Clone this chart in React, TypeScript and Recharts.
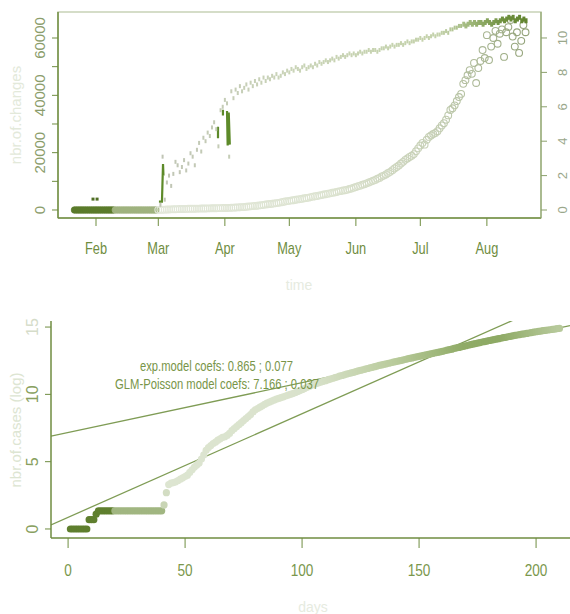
import React from 'react';
import { ComposedChart, Scatter, Line, XAxis, YAxis, ReferenceArea } from 'recharts';

// ---------- TOP PANEL DATA (day 0 = Jan 22) ----------
const monthTicks = [10, 39, 70, 100, 131, 161, 192];
const monthLabels = ['Feb', 'Mar', 'Apr', 'May', 'Jun', 'Jul', 'Aug'];
const leftTicks = [0, 10000, 20000, 30000, 40000, 50000, 60000];
const rightTicks = [0, 2, 4, 6, 8, 10];

// circles (left axis), one per day from day 0
const circleValues = [
  0, 0, 0, 0, 0, 0, 0, 0, 0, 0, 0, 0, 0, 0, 0, 0, 0, 0, 0, 0,
  0, 0, 0, 0, 0, 0, 0, 0, 0, 0, 0, 0, 0, 0, 0, 0, 0, 0, 0,
  60, 90, 110, 130, 160, 190, 220, 250, 280, 300, 330, 350, 370, 390, 410, 420, 440, 460, 470, 490, 500,
  520, 540, 560, 570, 590, 610, 620, 640, 660, 680, 700, 720, 750, 780, 820, 860, 900, 950, 1000, 1060,
  1120, 1200, 1280, 1350, 1430, 1500, 1600, 1700, 1800, 1900, 2000, 2100, 2200, 2300, 2400, 2500, 2650, 2800, 2950, 3100,
  3200, 3350, 3400, 3550, 3700, 3800, 3900, 4100, 4200, 4300, 4500, 4650, 4800, 4900, 5100, 5200, 5400, 5500, 5700, 5800,
  6000, 6100, 6300, 6500, 6600, 6800, 6900, 7100, 7300, 7500, 7800, 8000, 8300, 8500, 8800, 9000, 9300, 9600, 9900, 10200,
  10500, 10900, 11200, 11700, 12000, 12400, 12900, 13300, 13900, 14500, 15000, 15500, 16200, 16800, 17500, 18000, 18500, 18900, 19500, 20500,
  21500, 22500, 23400, 22800, 24500, 25500, 26000, 26500, 26900, 27500, 28500, 29500, 30300, 31500, 33000, 34900, 35500, 36500, 38000, 39400,
  40500, 44000, 45300, 47000, 48800, 47500, 51300, 44300, 49500, 52000, 55800, 53000, 61000, 52300, 57000, 60000, 62500, 58000, 61500, 63000,
  53400, 62000, 63800, 66300, 60500, 57000, 62000, 54800, 59000, 64500, 62000,
];

// small dash points (right axis), one per day from upperStartDay
const upperStartDay = 40;
const upperValues = [
  0.3, 3.1, 0.6, 1.6, 2.0, 1.4, 2.1, 2.8, 2.6, 2.2,
  2.5, 2.9, 2.3, 2.7, 3.3, 3.1, 2.6, 3.5, 3.9, 3.4,
  4.2, 4.0, 4.5, 4.3, 4.8, 5.1, 4.7, 3.7, 5.8, 6.0,
  6.4, 6.2, 3.1, 6.9, 6.5, 7.0, 6.8, 7.2, 6.9, 7.1,
  7.3, 7.0, 7.4, 7.2, 7.5, 7.3, 7.6, 7.4, 7.7, 7.5,
  7.7, 7.6, 7.8, 7.7, 7.9, 7.7, 7.8, 8.0, 7.9, 8.1,
  8.0, 8.2, 8.1, 8.3, 8.2, 8.1, 8.3, 8.4, 8.2, 8.3,
  8.4, 8.3, 8.5, 8.4, 8.6, 8.5, 8.6, 8.7, 8.6, 8.7,
  8.8, 8.7, 8.9, 8.8, 8.9, 9.0, 8.9, 9.0, 9.1, 9.0,
  9.1, 9.0, 9.1, 9.2, 9.1, 9.2, 9.2, 9.3, 9.2, 9.3,
  9.3, 9.2, 9.3, 9.4, 9.4, 9.5, 9.4, 9.5, 9.6, 9.5,
  9.6, 9.6, 9.7, 9.6, 9.7, 9.8, 9.7, 9.8, 9.8, 9.9,
  9.9, 10.0, 9.9, 10.0, 10.1, 10.0, 10.1, 10.2, 10.1, 10.2,
  10.2, 10.3, 10.3, 10.4, 10.3, 10.5, 10.5, 10.6, 10.6, 10.7,
  10.7, 10.8, 10.7, 10.8, 10.9, 10.8, 10.9, 10.8, 10.9, 10.9,
  10.8, 10.9, 11.0, 10.9, 10.8, 10.9, 11.0, 10.9, 11.0, 11.1,
  11.0, 11.1, 11.2, 11.1, 11.2, 11.0, 11.1, 11.2, 11.0, 11.1, 11.0,
];

// dark vertical segments (left axis); null breaks the line
const segDays = [39.3, 40.7, 40.9, 41.2, 41.4, 41.5, 66.8, 66.8, 66.9, 69.1, 69.1, 69.2, 71.0, 71.3, 71.8, 72.3];
const segValues = [2900, 2900, 8000, 16000, 12000, null, 29000, 25000, null, 35000, 33000, null, 34500, 22500, 34000, 22800];

const febDotDays = [8.6, 10.5];
const febDotValues = [3800, 3800];

// ---------- BOTTOM PANEL DATA ----------
const dayTicks = [0, 50, 100, 150, 200];
const logTicks = [0, 5, 10, 15];
const caseStartDay = 1;
const logCases = [
  0, 0, 0, 0, 0, 0, 0, 0,
  0.69, 0.69, 0.69, 1.1,
  1.35, 1.35, 1.35, 1.35, 1.35, 1.35, 1.35, 1.35, 1.35, 1.35, 1.35, 1.35, 1.35, 1.35,
  1.35, 1.35, 1.35, 1.35, 1.35, 1.35, 1.35, 1.35, 1.35, 1.35, 1.35, 1.35, 1.35, 1.35,
  1.79, 2.7,
  3.3, 3.4, 3.45, 3.5, 3.6, 3.7, 3.8, 3.9, 4.0, 4.2, 4.4, 4.6, 4.75, 4.9, 5.2, 5.5, 5.85, 6.05,
  6.2, 6.35, 6.45, 6.6, 6.7, 6.8, 6.85, 6.95, 7.1, 7.3, 7.45, 7.6, 7.75, 7.9, 8.05, 8.2, 8.35, 8.5,
  8.7, 8.85, 8.95, 9.05, 9.15, 9.25, 9.35, 9.42, 9.5, 9.57, 9.64, 9.7, 9.76, 9.82, 9.88, 9.94, 10.0, 10.06,
  10.12, 10.2, 10.28, 10.35,
  10.43, 10.51, 10.59, 10.67, 10.75, 10.8, 10.86, 10.91, 10.97, 11.02,
  11.07, 11.13, 11.18, 11.24, 11.29, 11.35, 11.4, 11.45, 11.5, 11.55,
  11.6, 11.64, 11.69, 11.74, 11.78, 11.83, 11.88, 11.92, 11.97, 12.01,
  12.06, 12.1, 12.15, 12.19, 12.23, 12.27, 12.31, 12.35, 12.39, 12.43,
  12.47, 12.51, 12.55, 12.59, 12.63, 12.67, 12.71, 12.75, 12.79, 12.82,
  12.86, 12.9, 12.94, 12.97, 13.01, 13.05, 13.09, 13.12, 13.16, 13.2,
  13.24, 13.28, 13.32, 13.36, 13.41, 13.45, 13.49, 13.53, 13.57, 13.61,
  13.65, 13.69, 13.73, 13.77, 13.81, 13.85, 13.89, 13.92, 13.96, 14.0,
  14.03, 14.07, 14.1, 14.14, 14.17, 14.21, 14.24, 14.28, 14.31, 14.35,
  14.38, 14.41, 14.44, 14.47, 14.5, 14.53, 14.56, 14.59, 14.62, 14.65,
  14.68, 14.7, 14.73, 14.75, 14.78, 14.8, 14.83, 14.85, 14.88, 14.9,
];
const expCoefs = [0.865, 0.077];
const glmCoefs = [7.166, 0.037];
const modelDays = [-7.3, 214.5];

// ---------- built tables ----------
const circleData = circleValues.map((v, i) => ({ day: i, v }));
const upperData = upperValues.map((v, i) => ({ day: upperStartDay + i, u: v }));
const segData = segDays.map((d, i) => ({ day: d, s: segValues[i] }));
const febData = febDotDays.map((d, i) => ({ day: d, f: febDotValues[i] }));
const caseData = logCases.map((v, i) => ({ day: caseStartDay + i, c: v }));
const modelData = modelDays.map((d) => ({
  day: d,
  exp: expCoefs[0] + expCoefs[1] * d,
  glm: glmCoefs[0] + glmCoefs[1] * d,
}));

// ---------- styling helpers ----------
const NARROW = '"Liberation Sans Narrow", "Liberation Sans", Arial, sans-serif';
const REG = '"Liberation Sans", Arial, sans-serif';

function hexToRgb(h: string) {
  const n = parseInt(h.slice(1), 16);
  return [(n >> 16) & 255, (n >> 8) & 255, n & 255];
}
function ramp(stops: [number, string][], t: number) {
  if (t <= stops[0][0]) return stops[0][1];
  for (let i = 1; i < stops.length; i++) {
    if (t <= stops[i][0]) {
      const [t0, c0] = stops[i - 1];
      const [t1, c1] = stops[i];
      const k = (t - t0) / (t1 - t0);
      const a = hexToRgb(c0), b = hexToRgb(c1);
      const m = a.map((x, j) => Math.round(x + (b[j] - x) * k));
      return `rgb(${m[0]},${m[1]},${m[2]})`;
    }
  }
  return stops[stops.length - 1][1];
}

const circleStroke: [number, string][] = [[39, '#e2e7d9'], [120, '#dce3d0'], [170, '#c3cdb2'], [210, '#93a379']];
const upperColor: [number, string][] = [[40, '#c0c5b5'], [100, '#cad4b8'], [170, '#c4d2ab'], [185, '#9cb577'], [200, '#6d8f3c'], [210, '#62852f']];
const caseColor: [number, string][] = [[1, '#5f7f2e'], [19, '#5f7f2e'], [20, '#a1b681'], [40, '#a1b681'], [41, '#c9d5b5'], [43, '#dde5d1'], [105, '#d9e2cb'], [140, '#b9cb9c'], [170, '#8fab66'], [185, '#8eaa65'], [210, '#b7c99b']];

const CircleShape = (p: any) => {
  const d = p.payload.day;
  if (d <= 18) return <circle cx={p.cx} cy={p.cy} r={3.3} fill="#5b7b2b" stroke="#5b7b2b" strokeWidth={0.8} />;
  if (d <= 38) return <circle cx={p.cx} cy={p.cy} r={3.3} fill="#9fb37f" stroke="#9fb37f" strokeWidth={0.8} />;
  return <circle cx={p.cx} cy={p.cy} r={3.4} fill="none" stroke={ramp(circleStroke, d)} strokeWidth={1.1} />;
};
const UpperShape = (p: any) => {
  const d = p.payload.day;
  const late = d > 180;
  return <rect x={p.cx - 1} y={p.cy - (late ? 2.5 : 2)} width={late ? 3 : 2} height={late ? 5 : 4} fill={ramp(upperColor, d)} />;
};
const FebShape = (p: any) => <rect x={p.cx - 1.5} y={p.cy - 1.5} width={3} height={3} fill="#4f6e24" />;
const CaseShape = (p: any) => <circle cx={p.cx} cy={p.cy} r={3.6} fill={ramp(caseColor, p.payload.day)} />;

const AX = '#6f8d40';

const TopXTick = (p: any) => {
  const i = monthTicks.indexOf(p.payload.value);
  return (
    <g transform={`translate(${p.x},254) scale(0.8,1)`}>
      <text x={0} y={0} textAnchor="middle" fontFamily={NARROW} fontSize={16} fill="#6f8d3f">{monthLabels[i]}</text>
    </g>
  );
};
const TopLeftTick = (p: any) => {
  const v = p.payload.value;
  if (v % 20000 !== 0) return <g />;
  return (
    <text transform={`translate(39,${p.y}) rotate(-90)`} textAnchor="middle" dominantBaseline="central" fontFamily={REG} fontSize={15} fill="#8b9d6c">{v}</text>
  );
};
const TopRightTick = (p: any) => (
  <text transform={`translate(562,${p.y}) rotate(-90)`} textAnchor="middle" dominantBaseline="central" fontFamily={REG} fontSize={13} fill="#9aa78b">{p.payload.value}</text>
);
const BotXTick = (p: any) => (
  <g transform={`translate(${p.x},276) scale(0.8,1)`}>
    <text x={0} y={0} textAnchor="middle" fontFamily={NARROW} fontSize={17} fill="#7a974c">{p.payload.value}</text>
  </g>
);
const BotYTick = (p: any) => {
  const v = p.payload.value;
  return (
    <text transform={`translate(32,${p.y}) rotate(-90)`} textAnchor="middle" dominantBaseline="central" fontFamily={REG} fontSize={16} fill={v === 15 ? '#d5dcc9' : '#88a060'}>{v}</text>
  );
};

export default function App() {
  return (
    <div style={{ position: 'absolute', left: 0, top: 0, width: 570, height: 614, background: '#fff', overflow: 'hidden' }}>
      <div style={{ position: 'absolute', left: 0, top: 0 }}>
        <ComposedChart width={570} height={300} margin={{ top: 12, right: 0, bottom: 42, left: 0 }}>
          <XAxis type="number" dataKey="day" domain={[-7.7, 217.2]} allowDataOverflow ticks={monthTicks} interval={0}
            tick={TopXTick} tickSize={8} tickLine={{ stroke: AX }} axisLine={{ stroke: AX, strokeWidth: 1.5 }} height={40} />
          <YAxis yAxisId="left" type="number" domain={[-2791, 69070]} allowDataOverflow ticks={leftTicks} interval={0}
            tick={TopLeftTick} tickSize={6} width={58} tickLine={{ stroke: AX }} axisLine={{ stroke: AX, strokeWidth: 1.5 }} />
          <YAxis yAxisId="right" orientation="right" type="number" domain={[-0.465, 11.51]} allowDataOverflow ticks={rightTicks} interval={0}
            tick={TopRightTick} tickSize={6} width={29} tickLine={{ stroke: '#8ba06c' }} axisLine={{ stroke: '#8ea46c', strokeWidth: 1.2 }} />
          <ReferenceArea yAxisId="left" x1={-7.7} x2={217.2} y1={-2791} y2={69070} ifOverflow="visible"
            stroke="#c8d2b6" strokeWidth={1.5} fill="#ffffff" fillOpacity={0} />
          <Scatter data={circleData} dataKey="v" yAxisId="left" shape={CircleShape} isAnimationActive={false} />
          <Scatter data={upperData} dataKey="u" yAxisId="right" shape={UpperShape} isAnimationActive={false} />
          <Scatter data={febData} dataKey="f" yAxisId="left" shape={FebShape} isAnimationActive={false} />
          <Line data={segData} dataKey="s" yAxisId="left" type="linear" stroke="#5d8a29" strokeWidth={2.2} dot={false} isAnimationActive={false} />
        </ComposedChart>
      </div>
      <div style={{ position: 'absolute', left: 0, top: 300 }}>
        <ComposedChart width={570} height={314} margin={{ top: 21, right: 0, bottom: 36, left: 0 }}>
          <XAxis type="number" dataKey="day" domain={[-7.3, 214.5]} allowDataOverflow ticks={dayTicks} interval={0}
            tick={BotXTick} tickSize={10} height={40} tickLine={{ stroke: AX }} axisLine={{ stroke: AX, strokeWidth: 1.5 }} />
          <YAxis type="number" domain={[-0.67, 15.45]} allowDataOverflow ticks={logTicks} interval={0}
            tick={BotYTick} tickSize={6} width={51} tickLine={{ stroke: AX }} axisLine={{ stroke: AX, strokeWidth: 1.5 }} />
          <Scatter data={caseData} dataKey="c" shape={CaseShape} isAnimationActive={false} />
          <Line data={modelData} dataKey="exp" type="linear" stroke="#7f9c55" strokeWidth={1.3} dot={false} isAnimationActive={false} />
          <Line data={modelData} dataKey="glm" type="linear" stroke="#7f9c55" strokeWidth={1.3} dot={false} isAnimationActive={false} />
        </ComposedChart>
      </div>
      <svg width={570} height={614} style={{ position: 'absolute', left: 0, top: 0, pointerEvents: 'none' }}>
        <text x={299} y={290} textAnchor="middle" fontFamily={REG} fontSize={14} fill="#e6ebdf">time</text>
        <text transform="translate(15,115) rotate(-90)" textAnchor="middle" dominantBaseline="central" fontFamily={REG} fontSize={15} fill="#e3e9da">nbr.of.changes</text>
        <text x={313} y={612} textAnchor="middle" fontFamily={REG} fontSize={14} fill="#e6ebdf">days</text>
        <text transform="translate(15,430) rotate(-90)" textAnchor="middle" dominantBaseline="central" fontFamily={REG} fontSize={15} fill="#dde5d2">nbr.of.cases (log)</text>
        <text x={140} y={371} textLength={153} lengthAdjust="spacingAndGlyphs" fontFamily={NARROW} fontSize={15} fill="#789548">exp.model coefs:  0.865 ; 0.077</text>
        <text x={115} y={389} textLength={204} lengthAdjust="spacingAndGlyphs" fontFamily={NARROW} fontSize={15} fill="#789548">GLM-Poisson model coefs:  7.166 ; 0.037</text>
      </svg>
    </div>
  );
}
